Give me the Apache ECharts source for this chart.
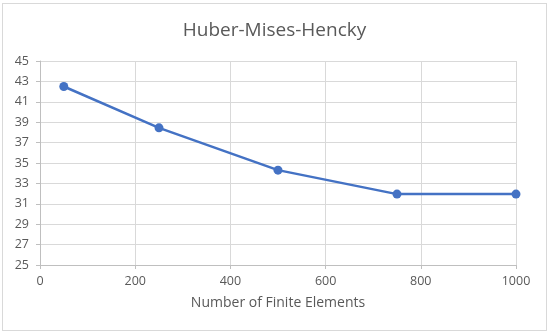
<!DOCTYPE html>
<html>
<head>
<meta charset="utf-8">
<script src="https://cdn.jsdelivr.net/npm/echarts@6/dist/echarts.min.js"></script>
<style>
  html, body { margin: 0; padding: 0; background: #fff; }
  #chart { position: absolute; left: 2px; top: 3px; width: 545px; height: 328px;
           border: 1px solid #d9d9d9; box-sizing: border-box; }
</style>
</head>
<body>
<div id="chart"></div>
<script>
// data
const elements = [50, 250, 500, 750, 1000];
const stress = [42.5, 38.45, 34.3, 31.95, 31.95];

const chart = echarts.init(document.getElementById('chart'), null, { renderer: 'canvas' });
const textColor = '#595959';
const fontFamily = 'Open Sans, Liberation Sans, sans-serif';

const option = {
    backgroundColor: '#fff',
    animation: false,
    title: {
        text: 'Huber-Mises-Hencky',
        left: 'center',
        top: 12,
        textStyle: { color: textColor, fontSize: 19, fontWeight: 'normal', fontFamily: fontFamily }
    },
    grid: { left: 37, right: 30, top: 57, bottom: 65 },
    xAxis: {
        type: 'value',
        min: 0,
        max: 1000,
        interval: 200,
        name: 'Number of Finite Elements',
        nameLocation: 'middle',
        nameGap: 31,
        nameTextStyle: { color: textColor, fontSize: 14, fontFamily: fontFamily },
        axisLine: { show: true, lineStyle: { color: '#bfbfbf' } },
        axisTick: { show: true, length: 4, lineStyle: { color: '#bfbfbf' } },
        axisLabel: { color: textColor, fontSize: 12.5, margin: 10, fontFamily: fontFamily,
                     formatter: v => String(v) },
        splitLine: { show: true, lineStyle: { color: '#d9d9d9' } }
    },
    yAxis: {
        type: 'value',
        min: 25,
        max: 45,
        interval: 2,
        axisLine: { show: true, lineStyle: { color: '#bfbfbf' } },
        axisTick: { show: true, length: 4, lineStyle: { color: '#bfbfbf' } },
        axisLabel: { color: textColor, fontSize: 12.5, margin: 11, fontFamily: fontFamily },
        splitLine: { show: true, lineStyle: { color: '#d9d9d9' } }
    },
    series: [
        {
            type: 'line',
            data: elements.map((x, i) => [x, stress[i]]),
            symbol: 'circle',
            symbolSize: 9,
            lineStyle: { color: '#4472c4', width: 2.5 },
            itemStyle: { color: '#4472c4' }
        }
    ]
};
chart.setOption(option);
window.addEventListener('resize', () => chart.resize());
</script>
</body>
</html>
